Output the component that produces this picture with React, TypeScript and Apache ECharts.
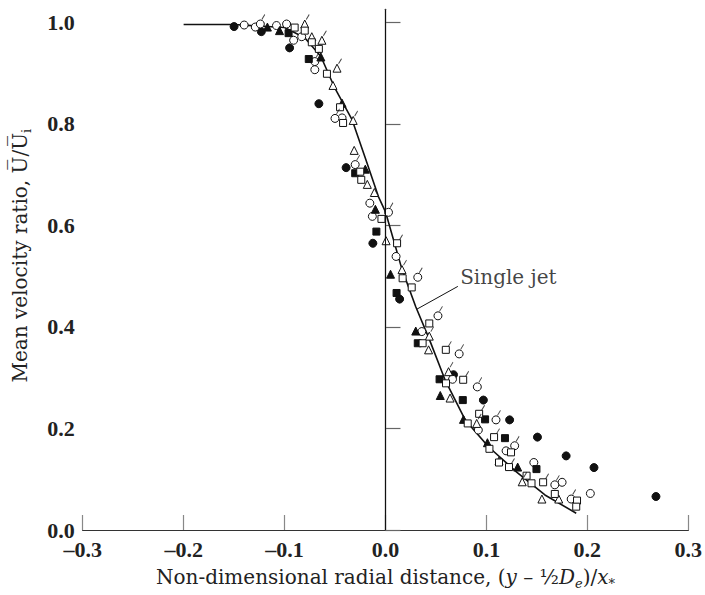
import React, { useEffect, useRef } from "react";
import * as echarts from "echarts";

// Single-jet curve
const curveX = [-0.2, -0.15, -0.1, -0.08, -0.064, -0.05, -0.033, -0.02, -0.007, 0.0, 0.016, 0.03, 0.043, 0.059, 0.079, 0.102, 0.13, 0.158, 0.189];
const curveY = [0.996, 0.996, 0.99, 0.97, 0.933, 0.87, 0.808, 0.733, 0.657, 0.627, 0.516, 0.44, 0.378, 0.296, 0.217, 0.164, 0.114, 0.069, 0.033];

const filledCircles = [[-0.150,0.992],[-0.123,0.982],[-0.095,0.950],[-0.066,0.840],[-0.039,0.714],[-0.0125,0.565],[0.014,0.455],[0.0674,0.306],[0.097,0.256],[0.123,0.217],[0.1506,0.183],[0.179,0.146],[0.2066,0.123],[0.268,0.066]];
const openCircles = [[-0.140,0.995],[-0.129,0.991],[-0.108,0.994],[-0.098,0.997],[-0.091,0.965],[-0.083,0.972],[-0.070,0.907],[-0.043,0.812],[-0.0155,0.644],[-0.013,0.618],[0.0105,0.539],[0.036,0.391],[0.0664,0.297],[0.092,0.197],[0.1195,0.156],[0.147,0.133],[0.175,0.094],[0.203,0.072]];
const flaggedCircles = [[-0.124,0.997],[-0.070,0.923],[-0.050,0.811],[-0.030,0.720],[0.003,0.626],[0.032,0.498],[0.052,0.422],[0.073,0.347],[0.091,0.282],[0.1095,0.217],[0.128,0.166],[0.1678,0.089],[0.184,0.061]];
const filledTriangles = [[-0.117,0.991],[-0.105,0.984],[-0.064,0.932],[-0.043,0.841],[-0.020,0.711],[-0.010,0.632],[0.005,0.504],[0.030,0.392],[0.0543,0.265],[0.0773,0.218],[0.101,0.172],[0.131,0.124]];
const openTriangles = [[-0.073,0.972],[-0.052,0.876],[-0.031,0.748],[-0.018,0.681],[-0.011,0.665],[0.0006,0.570],[0.0427,0.355],[0.064,0.260],[0.1125,0.136],[0.155,0.061],[0.1717,0.061]];
const flaggedTriangles = [[-0.080,0.997],[-0.063,0.965],[-0.048,0.910],[-0.032,0.807],[0.0164,0.513],[0.0434,0.382],[0.0625,0.312],[0.0904,0.210],[0.1355,0.095]];
const filledSquares = [[-0.096,0.979],[-0.076,0.928],[-0.030,0.703],[-0.009,0.588],[0.011,0.467],[0.032,0.368],[0.0536,0.297],[0.0766,0.256],[0.0987,0.218],[0.1184,0.181],[0.1496,0.120]];
const openSquares = [[-0.090,0.990],[-0.080,0.984],[-0.073,0.961],[-0.066,0.948],[-0.058,0.899],[-0.045,0.833],[-0.042,0.802],[-0.025,0.706],[-0.024,0.690],[-0.004,0.613],[0.017,0.496],[0.026,0.478],[0.0434,0.407],[0.0368,0.368],[0.060,0.289],[0.0815,0.210],[0.103,0.160],[0.1244,0.153],[0.1125,0.133],[0.1398,0.107],[0.1447,0.092],[0.1678,0.071],[0.1898,0.058],[0.189,0.046]];
const flaggedSquares = [[0.0115,0.565],[0.0598,0.355],[0.077,0.296],[0.0928,0.229],[0.1076,0.183],[0.1224,0.124],[0.1562,0.094]];

const leaderLine = [[0.031, 0.435], [0.0717, 0.480]];
const singleJetLabel = [[0.074, 0.499]];
const yTicks = [0, 0.2, 0.4, 0.6, 0.8, 1.0];

const TICKFONT = "'Liberation Serif', 'Times New Roman', serif";
const SERIF = "'DejaVu Serif', 'Liberation Serif', serif";
const INK = "#111";

function scatter(data: number[][], symbol: string, size: number, filled: boolean) {
  return {
    type: "scatter",
    data,
    symbol,
    symbolSize: size,
    itemStyle: { color: filled ? INK : "#fff", borderColor: INK, borderWidth: 1, opacity: 1 },
    z: 4,
    silent: true,
  };
}
function flags(data: number[][], offset: number[]) {
  return {
    type: "scatter",
    data,
    symbol: "path://M0,6L3,0",
    symbolSize: [3, 5],
    symbolOffset: offset,
    itemStyle: { color: "transparent", borderColor: INK, borderWidth: 1 },
    z: 5,
    silent: true,
  };
}

export default function App() {
  const ref = useRef<HTMLDivElement>(null);
  useEffect(() => {
    const chart = echarts.init(ref.current!, null, { renderer: "svg" });
    chart.setOption({
      animation: false,
      backgroundColor: "#fff",
      grid: { left: 82.7, right: 14.3, top: 9.3, bottom: 65 },
      xAxis: [
        {
          type: "value",
          min: -0.3,
          max: 0.3,
          interval: 0.1,
          position: "bottom",
          axisLine: { lineStyle: { color: "#888", width: 1.2 } },
          axisTick: { inside: true, length: 15, lineStyle: { color: "#888", width: 1.2 } },
          axisLabel: {
            margin: 11,
            color: "#222",
            fontFamily: TICKFONT,
            fontWeight: "bold",
            fontSize: 22,
            lineHeight: 16,
            formatter: (v: number) => v.toFixed(1).replace("-", "\u2013"),
          },
          splitLine: { show: false },
          name: "{a|Non-dimensional radial distance, (}{i|y}{a| \u2013 }{a|\u00bd}{i|D}{s|e}{a|)/}{i|x}{s|*}",
          nameLocation: "middle",
          nameGap: 34,
          nameTextStyle: {
            rich: {
              a: { fontFamily: SERIF, fontSize: 20, color: "#222", lineHeight: 26, verticalAlign: "middle" },
              i: { fontFamily: SERIF, fontSize: 20, fontStyle: "italic", color: "#222", lineHeight: 26, verticalAlign: "middle" },
              s: { fontFamily: SERIF, fontSize: 13, fontStyle: "italic", color: "#222", lineHeight: 26, verticalAlign: "bottom" },
            },
          },
        },
        {
          type: "value",
          min: -0.3,
          max: 0.3,
          position: "top",
          axisLine: { lineStyle: { color: "#333", width: 1.2 } },
          axisTick: { show: false },
          axisLabel: { show: false },
          splitLine: { show: false },
        },
      ],
      yAxis: [
        {
          type: "value",
          min: 0,
          max: 1.026,
          interval: 0.2,
          position: "left",
          axisLine: { lineStyle: { color: "#222", width: 1.2 } },
          axisTick: { inside: true, length: 15, customValues: yTicks, lineStyle: { color: "#666", width: 1.2 } },
          axisLabel: {
            margin: 8,
            color: "#222",
            fontFamily: TICKFONT,
            fontWeight: "bold",
            fontSize: 22,
            lineHeight: 16,
            customValues: yTicks,
            formatter: (v: number) => v.toFixed(1),
          },
          splitLine: { show: false },
          name: "{a|Mean velocity ratio, U\u0305/U\u0305}{s|i}",
          nameLocation: "middle",
          nameGap: 50,
          nameTextStyle: {
            padding: [0, 0, 0, 28],
            rich: {
              a: { fontFamily: SERIF, fontSize: 20, color: "#222", lineHeight: 26, verticalAlign: "middle" },
              s: { fontFamily: SERIF, fontSize: 13, color: "#222", lineHeight: 26, verticalAlign: "bottom" },
            },
          },
        },
        {
          type: "value",
          min: 0,
          max: 1.026,
          position: "right",
          axisLine: { lineStyle: { color: "#888", width: 1.2 } },
          axisTick: { show: false },
          axisLabel: { show: false },
          splitLine: { show: false },
        },
      ],
      series: [
        {
          type: "line",
          data: curveX.map((x, i) => [x, curveY[i]]),
          showSymbol: false,
          symbol: "none",
          lineStyle: { color: INK, width: 1.6 },
          z: 3,
          silent: true,
          markLine: {
            silent: true,
            symbol: "none",
            label: { show: false },
            lineStyle: { color: INK, width: 1, type: "solid" },
            data: [{ xAxis: 0 }],
          },
        },
        {
          type: "line",
          data: leaderLine,
          showSymbol: false,
          symbol: "none",
          lineStyle: { color: INK, width: 1 },
          silent: true,
        },
        {
          type: "scatter",
          data: singleJetLabel,
          symbolSize: 0,
          silent: true,
          label: {
            show: true,
            position: "right",
            distance: 0,
            formatter: "Single jet",
            fontFamily: SERIF,
            fontSize: 20,
            color: INK,
          },
        },
        scatter(filledCircles, "circle", 8, true),
        scatter(openCircles, "circle", 8, false),
        scatter(flaggedCircles, "circle", 8, false),
        flags(flaggedCircles, [3, -7]),
        scatter(filledTriangles, "triangle", 8, true),
        scatter(openTriangles, "triangle", 8, false),
        scatter(flaggedTriangles, "triangle", 8, false),
        flags(flaggedTriangles, [3, -7]),
        scatter(filledSquares, "rect", 7, true),
        scatter(openSquares, "rect", 7, false),
        scatter(flaggedSquares, "rect", 7, false),
        flags(flaggedSquares, [4, -6]),
      ],
    });
    return () => chart.dispose();
  }, []);
  return (
    <div
      ref={ref}
      style={{ position: "fixed", left: 0, top: 0, width: 705, height: 595, background: "#fff" }}
    />
  );
}
